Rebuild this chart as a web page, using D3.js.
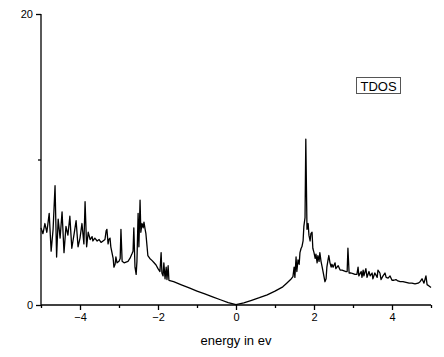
<!DOCTYPE html>
<html><head><meta charset="utf-8">
<script src="https://cdn.jsdelivr.net/npm/d3@7"></script>
<style>body{margin:0;background:#fff}svg{display:block}text{font-family:"Liberation Sans",Arial,sans-serif}</style>
</head><body>
<script>
// energy (eV)
const energy = [-5.00,-4.95,-4.90,-4.85,-4.79,-4.74,-4.69,-4.64,-4.60,-4.56,-4.51,-4.46,-4.41,-4.36,-4.31,-4.26,-4.21,-4.15,-4.10,-4.05,-4.00,-3.95,-3.90,-3.87,-3.83,-3.79,-3.74,-3.69,-3.67,-3.62,-3.56,-3.51,-3.46,-3.41,-3.36,-3.33,-3.31,-3.28,-3.26,-3.23,-3.21,-3.15,-3.13,-3.10,-3.08,-3.05,-3.00,-2.97,-2.95,-2.92,-2.87,-2.82,-2.77,-2.72,-2.67,-2.64,-2.62,-2.59,-2.56,-2.54,-2.51,-2.49,-2.46,-2.44,-2.41,-2.38,-2.36,-2.33,-2.31,-2.28,-2.26,-2.21,-2.15,-2.10,-2.05,-2.00,-1.95,-1.92,-1.90,-1.87,-1.85,-1.82,-1.79,-1.77,-1.74,-1.72,-1.60,-1.40,-1.20,-1.00,-0.80,-0.60,-0.40,-0.20,0.00,0.20,0.40,0.60,0.80,1.00,1.20,1.30,1.40,1.46,1.49,1.51,1.54,1.56,1.59,1.62,1.64,1.67,1.69,1.72,1.74,1.77,1.79,1.82,1.85,1.87,1.90,1.92,1.95,1.97,2.00,2.03,2.05,2.08,2.10,2.13,2.15,2.18,2.21,2.26,2.28,2.31,2.33,2.36,2.38,2.41,2.44,2.46,2.49,2.54,2.56,2.62,2.67,2.72,2.77,2.82,2.85,2.87,2.90,2.95,3.00,3.05,3.10,3.13,3.15,3.21,3.23,3.26,3.28,3.33,3.36,3.41,3.44,3.49,3.51,3.56,3.62,3.64,3.69,3.72,3.77,3.82,3.85,3.90,3.95,4.00,4.05,4.10,4.15,4.21,4.28,4.36,4.44,4.51,4.59,4.67,4.72,4.77,4.82,4.87,4.90,4.95,5.00];
// total density of states
const tdos = [5.3,4.9,5.6,5.0,6.3,3.7,5.2,8.2,3.3,5.9,4.6,6.4,3.6,5.4,4.8,6.1,3.9,4.9,5.8,4.0,4.6,5.6,4.2,7.1,4.0,5.0,4.5,4.7,4.4,4.6,4.4,4.5,4.3,4.4,4.5,5.1,5.2,4.2,4.5,4.6,4.0,3.2,2.6,2.8,3.3,2.9,3.0,3.2,5.2,3.0,2.9,2.95,3.0,3.2,3.5,3.7,5.3,2.6,2.1,3.0,6.3,4.0,7.2,5.0,5.6,5.3,5.7,5.2,4.9,4.0,3.4,3.2,3.05,2.9,2.75,2.5,2.3,3.6,2.2,2.0,2.9,1.8,2.6,1.75,2.7,1.7,1.6,1.38,1.17,0.96,0.76,0.56,0.36,0.17,0.02,0.15,0.32,0.5,0.7,0.95,1.25,1.5,1.75,1.95,2.6,1.9,3.3,2.3,3.1,2.8,3.6,3.9,4.0,4.4,5.4,6.0,11.4,5.2,5.6,4.8,4.4,4.9,5.0,3.9,3.6,3.2,3.5,2.9,3.4,3.0,3.6,3.0,2.6,1.9,1.6,1.8,2.6,3.1,3.4,2.9,2.6,2.8,2.6,2.9,2.5,2.7,2.4,2.4,2.35,2.3,2.3,3.9,2.2,2.2,2.15,2.1,2.1,2.6,2.0,2.3,1.9,2.4,2.0,2.5,1.9,2.3,2.0,2.2,1.8,2.2,1.9,2.4,2.2,1.75,2.0,2.2,1.9,1.85,2.0,1.7,1.7,1.75,1.65,1.6,1.6,1.55,1.5,1.5,1.45,1.5,1.6,1.8,1.5,2.0,1.4,1.3,1.2];
const xMajorTicks = [-4,-2,0,2,4];
const xMinorTicks = [-5,-3,-1,1,3,5];
const yMajorTicks = [0,20];
const yMinorTicks = [10];
const legendLabel = "TDOS";
const xTitle = "energy in ev";

const W = 444, H = 357;
const svg = d3.select("body").append("svg").attr("width", W).attr("height", H);
const x = d3.scaleLinear().domain([-5,5]).range([41,431]);
const y = d3.scaleLinear().domain([0,20]).range([305,14]);

// axes
const xAxis = d3.axisBottom(x).tickValues(xMajorTicks).tickSize(5).tickPadding(3).tickFormat(d3.format("d"));
const gx = svg.append("g").attr("transform","translate(0,305)").call(xAxis);
gx.select(".domain").attr("d","M41,0H431");
svg.append("g").attr("transform","translate(0,305)")
  .call(d3.axisBottom(x).tickValues(xMinorTicks).tickSize(3).tickFormat(""))
  .select(".domain").remove();
const yAxis = d3.axisLeft(y).tickValues(yMajorTicks).tickSize(5).tickPadding(3);
const gy = svg.append("g").attr("transform","translate(41,0)").call(yAxis);
gy.select(".domain").attr("d","M0,305V14");
svg.append("g").attr("transform","translate(41,0)")
  .call(d3.axisLeft(y).tickValues(yMinorTicks).tickSize(3).tickFormat(""))
  .select(".domain").remove();
svg.selectAll(".domain, .tick line").attr("stroke","#000").attr("stroke-width",1.3);
svg.selectAll(".tick text").attr("font-size",11).attr("fill","#000").style("font-family","'Liberation Sans',Arial,sans-serif");

// line
const data = energy.map((e,i)=>[e,tdos[i]]);
svg.append("path").datum(data)
  .attr("fill","none").attr("stroke","#000").attr("stroke-width",1.3).attr("stroke-linejoin","round")
  .attr("d", d3.line().x(d=>x(d[0])).y(d=>y(d[1])));

// legend box
svg.append("rect").attr("x",356.5).attr("y",77.5).attr("width",44).attr("height",16)
  .attr("fill","#fff").attr("stroke","#555").attr("stroke-width",1);
svg.append("text").attr("x",378.5).attr("y",90.5).attr("text-anchor","middle")
  .attr("font-size",13).attr("fill","#000").text(legendLabel);

// x title
svg.append("text").attr("x",236).attr("y",345).attr("text-anchor","middle")
  .attr("font-size",13).attr("fill","#000").text(xTitle);
</script>
</body></html>
